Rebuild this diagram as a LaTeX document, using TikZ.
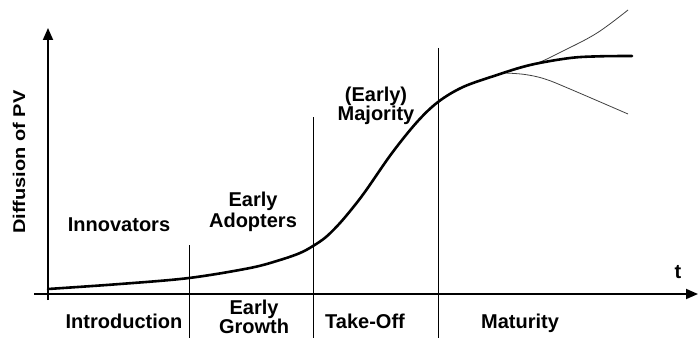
\documentclass[tikz,border=0pt]{standalone}
\usepackage{fontspec}
\setmainfont{Liberation Sans}
\usetikzlibrary{arrows.meta}
\begin{document}
\begin{tikzpicture}[x=1pt,y=-1pt,
  lbl/.style={font=\fontsize{20}{21}\selectfont\bfseries, inner sep=0pt, align=center},
  axis/.style={line width=1.8pt, -{Triangle[length=12pt,width=10pt]}},
  divider/.style={line width=1pt},
  mainline/.style={line width=2.6pt, line cap=round},
  branch/.style={line width=0.8pt, black!75}]
\useasboundingbox (0,0) rectangle (698,337);
% axes
\coordinate (xs) at (34,294);
\coordinate (xe) at (698,294);
\coordinate (ys) at (48,300);
\coordinate (ye) at (48,28);
\draw[axis] (xs) -- (xe);
\draw[axis] (ys) -- (ye);
% dividers
\coordinate (d1t) at (189,245); \coordinate (d1b) at (189,340);
\coordinate (d2t) at (313,117); \coordinate (d2b) at (313,340);
\coordinate (d3t) at (438,48);  \coordinate (d3b) at (438,340);
\draw[divider] (d1t) -- (d1b);
\draw[divider] (d2t) -- (d2b);
\draw[divider] (d3t) -- (d3b);
% branches
\draw[branch] plot[smooth, tension=0.6] coordinates {(505,72) (535,64) (563,51) (597,33) (628,10)};
\draw[branch] plot[smooth, tension=0.6] coordinates {(505,73) (525,74.5) (545,79) (570,89) (628,114)};
% main S-curve
\draw[mainline] plot[smooth, tension=0.55] coordinates {(48,289) (120,284) (189,278) (250,268) (280,260) (300,253) (313,246) (326,237) (340,223) (355,205) (367,189) (392,153) (417,122) (438,102) (463,87) (497,75) (530,65) (570,58) (600,56.3) (632,56)};
% labels
\node[lbl, anchor=base] (inn) at (119,231) {Innovators};
\node[lbl, anchor=base] (ea1) at (253,206) {Early};
\node[lbl, anchor=base] (ea2) at (253,227) {Adopters};
\node[lbl, anchor=base] (em1) at (376,101) {(Early)};
\node[lbl, anchor=base] (em2) at (376,120) {Majority};
\node[lbl, anchor=base] (intro) at (124,328) {Introduction};
\node[lbl, anchor=base] (eg1) at (254,314) {Early};
\node[lbl, anchor=base] (eg2) at (254,333.5) {Growth};
\node[lbl, anchor=base] (tko) at (365,328) {Take-Off};
\node[lbl, anchor=base] (mat) at (520,328) {Maturity};
\node[lbl, anchor=base] (t) at (678,278) {t};
\node[lbl, rotate=90] (ylab) at (19,162) {\scalebox{1}[0.85]{Diffusion of PV}};
\end{tikzpicture}
\end{document}
